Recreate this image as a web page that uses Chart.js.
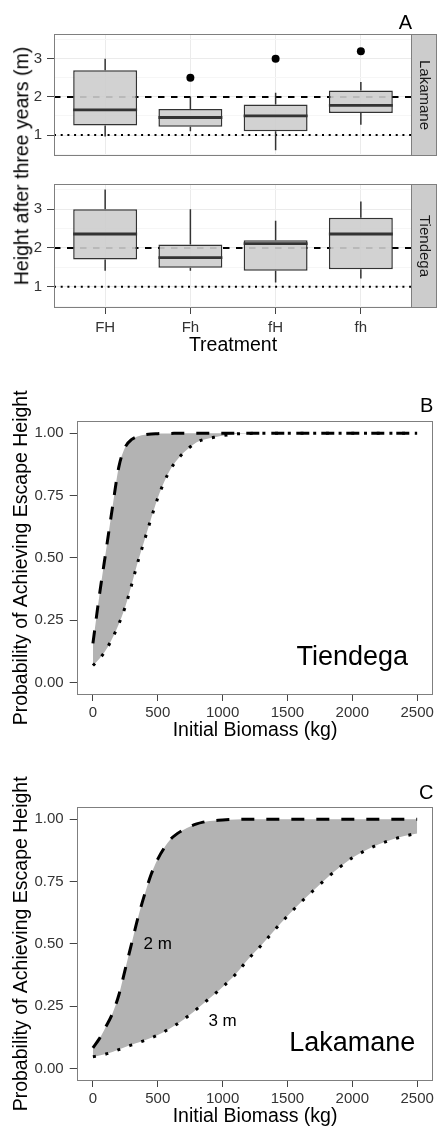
<!DOCTYPE html>
<html>
<head>
<meta charset="utf-8">
<script src="https://cdn.jsdelivr.net/npm/chart.js@4.4.1/dist/chart.umd.min.js"></script>
<style>
html,body{margin:0;padding:0;background:#fff;}
body{width:437px;height:1129px;position:relative;overflow:hidden;font-family:"Liberation Sans",Arial,Helvetica,sans-serif;}
.pane{position:absolute;left:0;width:437px;}
#ylabA{position:absolute;left:22px;top:166px;transform:translate(-50%,-50%) rotate(-90deg);white-space:nowrap;font-size:19.5px;line-height:1;color:#000;}
</style>
</head>
<body>
<div class="pane" style="top:0;height:170px"><canvas id="cA1"></canvas></div>
<div class="pane" style="top:170px;height:190px"><canvas id="cA2"></canvas></div>
<div id="ylabA">Height after three years (m)</div>
<div class="pane" style="top:370px;height:380px"><canvas id="cB"></canvas></div>
<div class="pane" style="top:750px;height:379px"><canvas id="cC"></canvas></div>
<script>
// ---------- Panel A data (box plots) ----------
const treatments = ['FH', 'Fh', 'fH', 'fh'];
const yMajorA = [1, 2, 3];
const yMinorA = [0.5, 1.5, 2.5, 3.5];
const refDashed = 2;   // 2 m escape height
const refDotted = 1;   // 1 m

const lakWhiskerLow  = [0.96, 1.10, 0.60, 1.27];
const lakQ1          = [1.25, 1.22, 1.10, 1.58];
const lakMedian      = [1.66, 1.46, 1.50, 1.78];
const lakQ3          = [2.70, 1.68, 1.80, 2.17];
const lakWhiskerHigh = [3.00, 2.00, 2.11, 2.39];
const lakOutlierCat  = [1, 2, 3];
const lakOutlierVal  = [2.5, 3.0, 3.2];

const tieWhiskerLow  = [1.41, 1.41, 1.11, 1.21];
const tieQ1          = [1.70, 1.49, 1.41, 1.45];
const tieMedian      = [2.36, 1.75, 2.11, 2.36];
const tieQ3          = [3.00, 2.09, 2.20, 2.78];
const tieWhiskerHigh = [3.51, 3.00, 2.70, 3.20];
const tieOutlierCat  = [];
const tieOutlierVal  = [];

// ---------- Panels B / C data (probability curves) ----------
const biomass = [0,50,100,150,200,250,300,350,400,450,500,550,600,650,700,750,800,850,900,950,1000,
                 1100,1200,1300,1400,1500,1600,1700,1800,1900,2000,2100,2200,2300,2400,2500];
const tiendega2m = [0.157,0.35,0.525,0.70,0.865,0.945,0.975,0.988,0.994,0.997,0.998,0.999,0.999,1,1,1,1,1,1,1,1,
                    1,1,1,1,1,1,1,1,1,1,1,1,1,1,1];
const tiendega3m = [0.068,0.095,0.13,0.178,0.235,0.305,0.395,0.49,0.575,0.66,0.74,0.805,0.857,0.893,0.922,0.945,0.964,0.974,0.98,0.985,0.99,
                    0.997,0.999,1,1,1,1,1,1,1,1,1,1,1,1,1];
const lakamane2m = [0.083,0.12,0.168,0.22,0.295,0.40,0.505,0.61,0.70,0.78,0.84,0.885,0.92,0.942,0.958,0.971,0.981,0.988,0.993,0.995,0.997,
                    0.999,1,1,1,1,1,1,1,1,1,1,1,1,1,1];
const lakamane3m = [0.047,0.052,0.058,0.066,0.076,0.086,0.095,0.104,0.113,0.123,0.134,0.148,0.163,0.179,0.197,0.217,0.238,0.26,0.282,0.304,0.327,
                    0.378,0.44,0.495,0.555,0.612,0.665,0.714,0.762,0.806,0.845,0.874,0.898,0.917,0.932,0.943];
const probTicks = [0, 0.25, 0.5, 0.75, 1];
const biomassTicks = [0, 500, 1000, 1500, 2000, 2500];

// ---------- helpers ----------
const FONT = '"Liberation Sans", Arial, Helvetica, sans-serif';
Chart.defaults.font.family = FONT;
const TICK_TXT = '#333333';
const TICK_MARK = '#444444';
const X_MIN_A = -0.6, X_MAX_A = 3.6;
const BOX_WIDTH = 0.75;

const panelFrame = {
  id: 'panelFrame',
  beforeDraw(chart, args, opts) {
    if (!opts.strip) return;
    const a = chart.chartArea, ctx = chart.ctx;
    ctx.save();
    ctx.fillStyle = '#cccccc';
    ctx.fillRect(a.right, a.top, chart.width - a.right, a.bottom - a.top);
    ctx.restore();
  },
  afterDraw(chart, args, opts) {
    const a = chart.chartArea, ctx = chart.ctx;
    ctx.save();
    ctx.strokeStyle = '#7f7f7f';
    ctx.lineWidth = 1;
    const l = Math.round(a.left) + 0.5, t = Math.round(a.top) + 0.5;
    const r = Math.round(a.right) - 0.5, b = Math.round(a.bottom) - 0.5;
    ctx.strokeRect(l, t, r - l, b - t);
    if (opts.strip) ctx.strokeRect(r, t, chart.width - 0.5 - r, b - t);
    ctx.restore();
  }
};

const textNotes = {
  id: 'textNotes',
  afterDatasetsDraw(chart, args, opts) {
    const xs = chart.scales.x, ys = chart.scales.y, ctx = chart.ctx;
    (opts.items || []).forEach(it => {
      ctx.save();
      ctx.font = it.size + 'px ' + FONT;
      ctx.fillStyle = '#000';
      ctx.textAlign = 'center';
      ctx.textBaseline = 'middle';
      ctx.fillText(it.text, xs.getPixelForValue(it.x), ys.getPixelForValue(it.y));
      ctx.restore();
    });
  }
};

function boxDatasets(lo, q1, med, q3, hi, outCat, outVal) {
  const half = BOX_WIDTH / 2;
  const whisk = [], mids = [];
  treatments.forEach((t, i) => {
    whisk.push({x: i, y: lo[i]}, {x: i, y: q1[i]}, {x: i, y: null},
               {x: i, y: q3[i]}, {x: i, y: hi[i]}, {x: i, y: null});
    mids.push({x: i - half, y: med[i]}, {x: i + half, y: med[i]}, {x: i + half, y: null});
  });
  return [
    {type: 'line', order: 10, data: [{x: X_MIN_A, y: refDashed}, {x: X_MAX_A, y: refDashed}],
     borderColor: '#000', borderWidth: 2, borderDash: [6.5, 6.5], pointRadius: 0, borderCapStyle: 'butt'},
    {type: 'line', order: 11, data: [{x: X_MIN_A, y: refDotted}, {x: X_MAX_A, y: refDotted}],
     borderColor: '#000', borderWidth: 2, borderDash: [2, 4.7], pointRadius: 0, borderCapStyle: 'butt'},
    {type: 'line', order: 5, data: whisk, borderColor: '#333', borderWidth: 1.5, pointRadius: 0, spanGaps: false},
    {type: 'bar', order: 3, data: treatments.map((t, i) => ({x: i, y: [q1[i], q3[i]]})),
     backgroundColor: 'rgba(205,205,205,0.9)', borderColor: '#333', borderWidth: 1.5, borderSkipped: false,
     barPercentage: BOX_WIDTH, categoryPercentage: 1},
    {type: 'line', order: 1, data: mids, borderColor: '#333', borderWidth: 2.8, pointRadius: 0,
     borderCapStyle: 'butt', spanGaps: false},
    {type: 'scatter', order: 0, data: outCat.map((c, k) => ({x: c, y: outVal[k]})),
     pointRadius: 4, backgroundColor: '#000', borderWidth: 0}
  ];
}

function boxChart(id, site, ds, isBottom, letter) {
  return new Chart(document.getElementById(id), {
    type: 'bar',
    data: {datasets: ds},
    options: {
      responsive: true, maintainAspectRatio: false, animation: false, devicePixelRatio: 1, events: [],
      layout: {padding: isBottom ? {left: 0, right: 0, top: 5, bottom: 0} : {left: 0, right: 0, top: 0, bottom: 1}},
      plugins: {
        legend: {display: false}, tooltip: {enabled: false},
        title: {display: !!letter, text: letter || '', position: 'top', align: 'end', fullSize: false, color: '#000',
                font: {size: 20, lineHeight: 1, weight: 'normal'}, padding: {top: 13, bottom: 1}},
        subtitle: {display: true, text: site, position: 'right', fullSize: false, color: '#1a1a1a',
                   font: {size: 15, lineHeight: 1.2, weight: 'normal'}, padding: {top: 3.5, bottom: 3.5}},
        panelFrame: {strip: true}
      },
      scales: {
        x: {
          type: 'linear', min: X_MIN_A, max: X_MAX_A, offset: false,
          afterBuildTicks: s => { s.ticks = treatments.map((t, i) => ({value: i})); },
          ticks: {display: isBottom, callback: v => treatments[v] ?? '', color: TICK_TXT, font: {size: 15},
                  padding: 4.8, maxRotation: 0, autoSkip: false},
          grid: {offset: false, color: '#ebebeb', drawTicks: isBottom, tickLength: 6, tickColor: TICK_MARK},
          border: {display: false},
          title: {display: isBottom, text: 'Treatment', color: '#000', font: {size: 19.5, lineHeight: 1},
                  padding: {top: 0, bottom: 4.95}},
          afterFit: s => { s.height = isBottom ? 52 : 0; }
        },
        y: {
          type: 'linear', min: 0.45, max: 3.65,
          afterBuildTicks: s => { s.ticks = yMinorA.concat(yMajorA).sort((a, b) => a - b).map(v => ({value: v})); },
          ticks: {callback: v => yMajorA.includes(v) ? String(v) : '', color: TICK_TXT, font: {size: 15}, padding: 5,
                  autoSkip: false},
          grid: {color: c => yMajorA.includes(c.tick && c.tick.value) ? '#ebebeb' : '#f6f6f6',
                 tickColor: c => yMajorA.includes(c.tick && c.tick.value) ? TICK_MARK : 'rgba(0,0,0,0)',
                 tickLength: 7},
          border: {display: false},
          afterFit: s => { s.width = 54; }
        }
      }
    },
    plugins: [panelFrame]
  });
}

boxChart('cA1', 'Lakamane',
  boxDatasets(lakWhiskerLow, lakQ1, lakMedian, lakQ3, lakWhiskerHigh, lakOutlierCat, lakOutlierVal), false, 'A');
boxChart('cA2', 'Tiendega',
  boxDatasets(tieWhiskerLow, tieQ1, tieMedian, tieQ3, tieWhiskerHigh, tieOutlierCat, tieOutlierVal), true, null);

function curveChart(id, upper, lower, letter, titlePad, xTitlePad, xHeight, notes) {
  return new Chart(document.getElementById(id), {
    type: 'line',
    data: {
      datasets: [
        {data: biomass.map((b, i) => ({x: b, y: upper[i]})), borderColor: '#000', borderWidth: 3,
         borderDash: [13, 12], borderCapStyle: 'butt', fill: '+1', backgroundColor: '#b3b3b3',
         pointRadius: 0, cubicInterpolationMode: 'monotone'},
        {data: biomass.map((b, i) => ({x: b, y: lower[i]})), borderColor: '#000', borderWidth: 3,
         borderDash: [3, 9.7], borderCapStyle: 'butt', fill: false,
         pointRadius: 0, cubicInterpolationMode: 'monotone'}
      ]
    },
    options: {
      responsive: true, maintainAspectRatio: false, animation: false, devicePixelRatio: 1, events: [],
      layout: {padding: {left: 0, right: 2, top: 0, bottom: 0}},
      plugins: {
        legend: {display: false}, tooltip: {enabled: false},
        filler: {drawTime: 'beforeDatasetsDraw'},
        title: {display: true, text: letter, position: 'top', align: 'end', fullSize: false, color: '#000',
                font: {size: 20, lineHeight: 1, weight: 'normal'}, padding: titlePad},
        panelFrame: {strip: false},
        textNotes: {items: notes}
      },
      scales: {
        x: {
          type: 'linear', min: -125, max: 2625,
          afterBuildTicks: s => { s.ticks = biomassTicks.map(v => ({value: v})); },
          ticks: {color: TICK_TXT, font: {size: 15}, padding: 3, maxRotation: 0, autoSkip: false,
                  callback: v => String(v)},
          grid: {display: true, drawOnChartArea: false, drawTicks: true, tickLength: 6, tickColor: TICK_MARK},
          border: {display: false},
          title: {display: true, text: 'Initial Biomass (kg)', color: '#000', font: {size: 19.5, lineHeight: 1},
                  padding: {top: 0, bottom: xTitlePad}},
          afterFit: s => { s.height = xHeight; }
        },
        y: {
          type: 'linear', min: -0.05, max: 1.05,
          afterBuildTicks: s => { s.ticks = probTicks.map(v => ({value: v})); },
          ticks: {color: TICK_TXT, font: {size: 15}, padding: 6, autoSkip: false, callback: v => v.toFixed(2)},
          grid: {display: true, drawOnChartArea: false, drawTicks: true, tickLength: 7, tickColor: TICK_MARK},
          border: {display: false},
          title: {display: true, text: 'Probability of Achieving Escape Height', color: '#000',
                  font: {size: 19.5, lineHeight: 1}, padding: {top: 12.25, bottom: 0}},
          afterFit: s => { s.width = 76.7; }
        }
      }
    },
    plugins: [panelFrame, textNotes]
  });
}

curveChart('cB', tiendega2m, tiendega3m, 'B', {top: 26.5, bottom: 4.2}, 9.25, 55,
  [{text: 'Tiendega', x: 2000, y: 0.1, size: 27}]);
curveChart('cC', lakamane2m, lakamane3m, 'C', {top: 33.3, bottom: 3.4}, 2.25, 48,
  [{text: 'Lakamane', x: 2000, y: 0.1, size: 27},
   {text: '2 m', x: 500, y: 0.5, size: 17},
   {text: '3 m', x: 1000, y: 0.19, size: 17}]);
</script>
</body>
</html>
